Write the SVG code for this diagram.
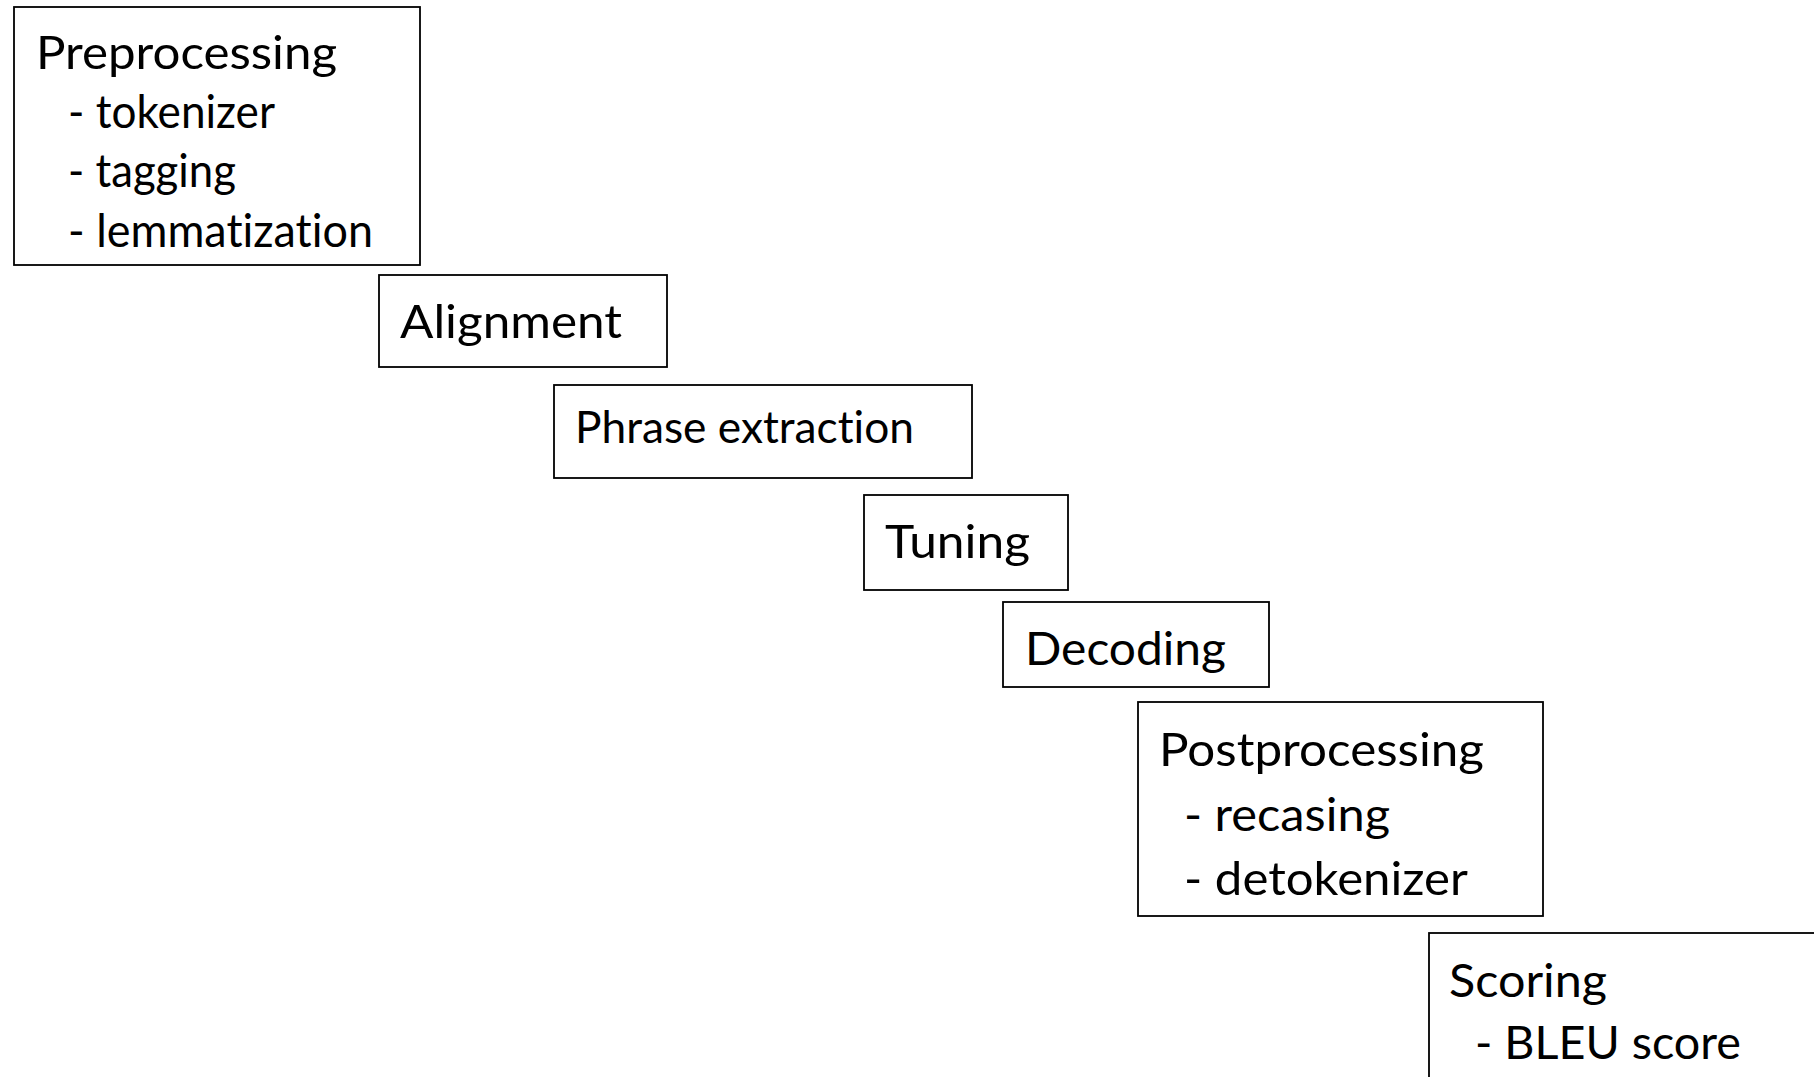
<svg xmlns="http://www.w3.org/2000/svg" width="1814" height="1077" viewBox="0 0 1814 1077">
<style>
.box{fill:#fff;stroke:#000;stroke-width:1.8}
.t{font-family:Lato,"Liberation Sans",sans-serif;font-size:47px;fill:#000;font-variant-ligatures:none;font-feature-settings:"liga" 0}
.s{font-family:Lato,"Liberation Sans",sans-serif;font-size:44px;fill:#000;font-variant-ligatures:none;font-feature-settings:"liga" 0}
</style>
<rect width="1814" height="1077" fill="#fff"/>
<g id="connectors"></g>
<g id="preprocessing">
<rect class="box" x="14" y="7" width="406" height="258"/>
<text class="t" x="36" y="69" textLength="301" lengthAdjust="spacingAndGlyphs">Preprocessing</text>
<text class="t" x="68" y="128" textLength="207" lengthAdjust="spacingAndGlyphs">- tokenizer</text>
<text class="t" x="68" y="187" textLength="168" lengthAdjust="spacingAndGlyphs">- tagging</text>
<text class="t" x="68" y="247" textLength="305" lengthAdjust="spacingAndGlyphs">- lemmatization</text>
</g>
<g id="alignment">
<rect class="box" x="379" y="275" width="288" height="92"/>
<text class="t" x="400" y="338" textLength="222" lengthAdjust="spacingAndGlyphs">Alignment</text>
</g>
<g id="phrase-extraction">
<rect class="box" x="554" y="385" width="418" height="93"/>
<text class="s" x="575" y="443" textLength="339" lengthAdjust="spacingAndGlyphs">Phrase extraction</text>
</g>
<g id="tuning">
<rect class="box" x="864" y="495" width="204" height="95"/>
<text class="t" x="885" y="558" textLength="145" lengthAdjust="spacingAndGlyphs">Tuning</text>
</g>
<g id="decoding">
<rect class="box" x="1003" y="602" width="266" height="85"/>
<text class="t" x="1025" y="665" textLength="201" lengthAdjust="spacingAndGlyphs">Decoding</text>
</g>
<g id="postprocessing">
<rect class="box" x="1138" y="702" width="405" height="214"/>
<text class="t" x="1159" y="766" textLength="325" lengthAdjust="spacingAndGlyphs">Postprocessing</text>
<text class="t" x="1184" y="831" textLength="206" lengthAdjust="spacingAndGlyphs">- recasing</text>
<text class="t" x="1184" y="895" textLength="284" lengthAdjust="spacingAndGlyphs">- detokenizer</text>
</g>
<g id="scoring">
<rect class="box" x="1429" y="933" width="420" height="200"/>
<text class="t" x="1449" y="997" textLength="158" lengthAdjust="spacingAndGlyphs">Scoring</text>
<text class="t" x="1475" y="1059" textLength="266" lengthAdjust="spacingAndGlyphs">- BLEU score</text>
</g>
</svg>
